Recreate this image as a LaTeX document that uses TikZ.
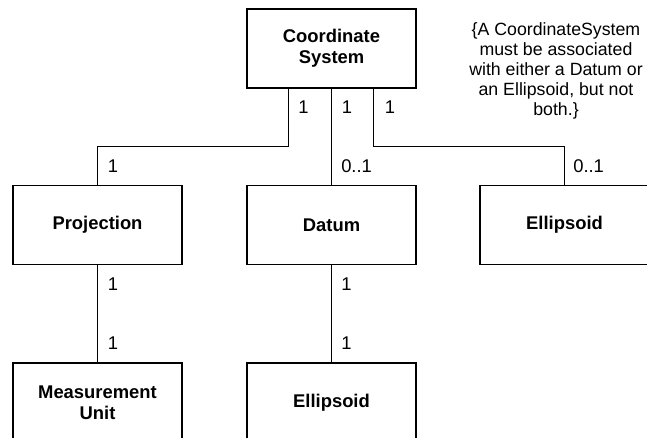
\documentclass[tikz,border=0pt]{standalone}
\usepackage{fontspec}
\setmainfont{Liberation Sans}
\usetikzlibrary{calc}
\begin{document}
\begin{tikzpicture}[x=0.75pt,y=-0.75pt,
  classbox/.style={draw=black, line width=0.9pt, fill=white, minimum width=126.75pt,
    minimum height=59.25pt, inner sep=0pt, align=center,
    font=\fontsize{13.8}{15.75}\selectfont\bfseries},
  mult/.style={anchor=west, inner sep=0pt, font=\fontsize{13.8}{15.75}\selectfont},
  assoc/.style={draw=black, line width=0.9pt},
  constraint/.style={align=center, inner sep=0pt, font=\fontsize{13.3}{15}\selectfont}]
  \useasboundingbox (0,0) rectangle (647,437);
  \clip (0,0) rectangle (647,437);

  % classes
  \node[classbox] (cs)   at (331.5,48.5)  {Coordinate\\System};
  \node[classbox] (proj) at (97.5,225)    {Projection};
  \node[classbox] (dat)  at (331.5,225)   {Datum};
  \node[classbox] (ell)  at (564.5,225)   {Ellipsoid};
  \node[classbox] (mu)   at (97.5,402.5)  {Measurement\\Unit};
  \node[classbox] (ell2) at (331.5,402.5) {Ellipsoid};

  % associations
  \coordinate (csl) at ($(cs.south)+(-43,0)$);
  \coordinate (csr) at ($(cs.south)+(42,0)$);
  \draw[assoc] (csl) -- ++(0,58) -| (proj.north);
  \draw[assoc] (cs.south) -- (dat.north);
  \draw[assoc] (csr) -- ++(0,58) -| (ell.north);
  \draw[assoc] (proj.south) -- (mu.north);
  \draw[assoc] (dat.south) -- (ell2.north);

  % multiplicities
  \node[mult] (m1) at (298,107) {1};
  \node[mult] (m2) at (341.5,107) {1};
  \node[mult] (m3) at (384.5,107) {1};
  \node[mult] (m4) at (107.5,166) {1};
  \node[mult] (m5) at (341,166) {0..1};
  \node[mult] (m6) at (573,166) {0..1};
  \node[mult] (m7) at (107.5,284) {1};
  \node[mult] (m8) at (107.5,343) {1};
  \node[mult] (m9) at (341,284) {1};
  \node[mult] (m10) at (341,343) {1};

  % constraint note
  \node[constraint] (note) at (556,71) {\{A CoordinateSystem\\must be associated\\with either a Datum or\\an Ellipsoid, but not\\both.\}};
\end{tikzpicture}
\end{document}
